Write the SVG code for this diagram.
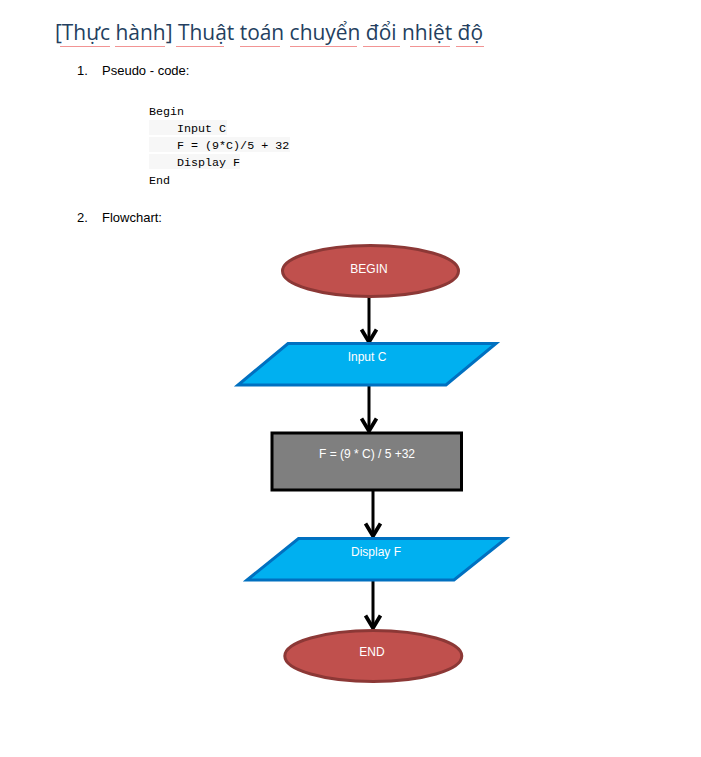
<svg xmlns="http://www.w3.org/2000/svg" width="701" height="757" viewBox="0 0 701 757">
<style>
.title{font-family:"Open Sans","Liberation Sans",sans-serif;font-size:22px;fill:#243f60}
.body{font-family:"Liberation Sans","Open Sans",sans-serif;font-size:13px;fill:#000}
.code{font-family:"Liberation Mono","DejaVu Sans Mono",monospace;font-size:11.7px;fill:#000}
.lbl{font-family:"Liberation Sans","Open Sans",sans-serif;font-size:12px;fill:#fff;text-anchor:middle}
.term{fill:#c0504d;stroke:#8c3836;stroke-width:3}
.io{fill:#00b0f0;stroke:#0070c0;stroke-width:3;stroke-linejoin:miter}
.proc{fill:#7f7f7f;stroke:#000;stroke-width:3}
.conn{stroke:#000;stroke-width:3;fill:none;marker-end:url(#arr)}
</style>
<defs>
<marker id="arr" markerUnits="userSpaceOnUse" markerWidth="20" markerHeight="20" viewBox="-12 -8 14 16" refX="0" refY="0" orient="auto" overflow="visible">
<path d="M-10,-6 L0,0 L-10,6" fill="none" stroke="#000" stroke-width="3"/>
</marker>
<pattern id="wv" width="4" height="3" patternUnits="userSpaceOnUse">
<path d="M0,2 L1,1 L2,2 L3,1 L4,2" fill="none" stroke="#e84040" stroke-width="0.7"/>
</pattern>
</defs>
<rect width="701" height="757" fill="#fff"/>
<g id="title">
<text class="title" x="55" y="40" textLength="428" lengthAdjust="spacingAndGlyphs">[Thực hành] Thuật toán chuyển đổi nhiệt độ</text>
<g opacity="0.8">
<rect x="60" y="45" width="50" height="3" fill="url(#wv)"/>
<rect x="115" y="45" width="50" height="3" fill="url(#wv)"/>
<rect x="176" y="45" width="48" height="3" fill="url(#wv)"/>
<rect x="240" y="45" width="40" height="3" fill="url(#wv)"/>
<rect x="290" y="45" width="67" height="3" fill="url(#wv)"/>
<rect x="363" y="45" width="37" height="3" fill="url(#wv)"/>
<rect x="410" y="45" width="40" height="3" fill="url(#wv)"/>
<rect x="456" y="45" width="28" height="3" fill="url(#wv)"/>
</g>
</g>
<g id="section1">
<text class="body" x="77" y="75">1.</text>
<text class="body" x="102" y="75">Pseudo - code:</text>
</g>
<g id="pseudocode">
<rect x="149" y="120" width="78" height="15" fill="#f7f7f7"/>
<rect x="149" y="137" width="141" height="15" fill="#f7f7f7"/>
<rect x="149" y="154" width="91" height="15" fill="#f7f7f7"/>
<text class="code" x="149" y="115">Begin</text>
<text class="code" x="177" y="132">Input C</text>
<text class="code" x="177" y="148.5">F = (9*C)/5 + 32</text>
<text class="code" x="177" y="166">Display F</text>
<text class="code" x="149" y="183.5">End</text>
</g>
<g id="section2">
<text class="body" x="77" y="222">2.</text>
<text class="body" x="102" y="222">Flowchart:</text>
</g>
<g id="connectors">
<line class="conn" x1="369" y1="297" x2="369" y2="342"/>
<line class="conn" x1="369" y1="385" x2="369" y2="431"/>
<line class="conn" x1="373" y1="490" x2="373" y2="536"/>
<line class="conn" x1="373" y1="580" x2="373" y2="628"/>
</g>
<g id="begin">
<ellipse class="term" cx="370.5" cy="271" rx="88" ry="25.5"/>
<text class="lbl" x="369" y="273">BEGIN</text>
</g>
<g id="input">
<polygon class="io" points="288,343.5 496,343.5 446,385 238,385"/>
<text class="lbl" x="367" y="361">Input C</text>
</g>
<g id="process">
<rect class="proc" x="272" y="433" width="189.5" height="57"/>
<text class="lbl" x="367" y="457.5">F = (9 * C) / 5 +32</text>
</g>
<g id="display">
<polygon class="io" points="298.5,538.5 506,538.5 454,580 247,580"/>
<text class="lbl" x="376" y="556">Display F</text>
</g>
<g id="end">
<ellipse class="term" cx="373.3" cy="656" rx="88.5" ry="25.5"/>
<text class="lbl" x="372" y="656">END</text>
</g>
</svg>
